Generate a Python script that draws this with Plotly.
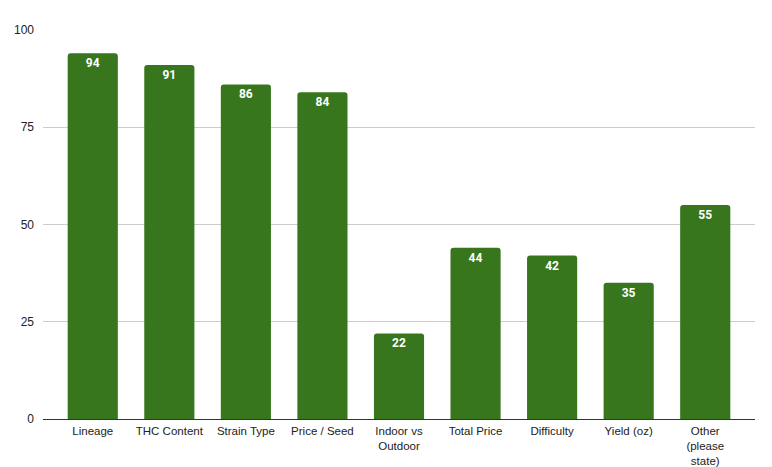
import plotly.graph_objects as go

categories = ["Lineage", "THC Content", "Strain Type", "Price / Seed",
              "Indoor vs<br>Outdoor", "Total Price", "Difficulty",
              "Yield (oz)", "Other<br>(please<br>state)"]
counts = [94, 91, 86, 84, 22, 44, 42, 35, 55]
y_ticks = [0, 25, 50, 75, 100]


def main():
    fig = go.Figure(go.Bar(
        x=list(range(len(categories))),
        y=counts,
        width=0.655,
        marker=dict(color="#38761d", cornerradius=3, line=dict(width=0)),
        text=counts,
        textposition="inside",
        insidetextanchor="end",
        textangle=0,
        textfont=dict(family="Roboto", size=12, color="white", weight="bold"),
        cliponaxis=False,
    ))

    fig.update_layout(
        width=772, height=467,
        margin=dict(l=43, r=17, t=30, b=48),
        plot_bgcolor="white",
        paper_bgcolor="white",
        showlegend=False,
        font=dict(family="Liberation Sans, Arial", size=12, color="#222222"),
    )
    fig.update_xaxes(
        tickvals=list(range(len(categories))),
        ticktext=categories,
        tickfont=dict(size=11.5),
        range=[-0.65, 8.65],
        showgrid=False,
        showline=True, linecolor="#333333", linewidth=1,
        ticks="", ticklabelstandoff=1,
        automargin=False,
    )
    fig.update_yaxes(
        range=[0, 100],
        tickvals=y_ticks,
        showgrid=True, gridcolor="#cccccc", gridwidth=1,
        zeroline=False,
        ticks="", ticklabelstandoff=8,
        automargin=False,
    )

    # page body has a default 8px margin, drop it so the chart sits at 0,0
    fig.write_html("out.html", config={"displayModeBar": False},
                   post_script="document.body.style.margin='0';")


if __name__ == "__main__":
    main()
